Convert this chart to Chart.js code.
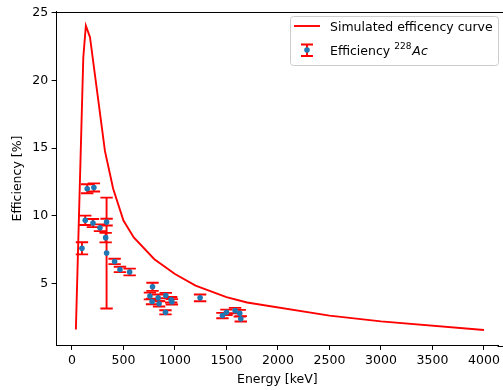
<!DOCTYPE html>
<html>
<head>
<meta charset="utf-8">
<script src="https://cdn.jsdelivr.net/npm/chart.js@4.4.1/dist/chart.umd.min.js"></script>
<style>
  body { margin: 0; background: #fff; }
  #chart { display: block; }
</style>
</head>
<body>
<canvas id="chart" width="503" height="390"></canvas>
<script>
// simulated efficiency curve
const curveEnergy = [38, 110, 135, 175, 320, 400, 500, 600, 800, 1000, 1200, 1500, 1700, 2500, 3000, 4000];
const curveEff = [1.6, 21.7, 24.05, 23.2, 14.8, 12.0, 9.65, 8.4, 6.8, 5.7, 4.85, 4.0, 3.6, 2.63, 2.2, 1.57];

// measured 228Ac efficiencies
const pointEnergy = [97, 129, 148, 204, 213, 272, 336, 327, 336, 414, 466, 560, 782, 757, 778, 837, 846, 911, 963, 970, 908, 1244, 1461, 1500, 1584, 1629, 1639];
const pointEff = [7.6, 9.67, 12.0, 9.47, 12.1, 9.12, 9.54, 8.39, 7.25, 6.63, 6.04, 5.85, 4.76, 4.08, 3.67, 3.94, 3.5, 4.11, 3.8, 3.65, 2.87, 3.94, 2.63, 2.87, 3.0, 2.8, 2.39];
const pointErr = [0.45, 0.35, 0.33, 0.3, 0.3, 0.25, 0.25, 0.35, 4.1, 0.2, 0.2, 0.25, 0.3, 0.25, 0.2, 0.25, 0.2, 0.2, 0.2, 0.2, 0.15, 0.25, 0.2, 0.2, 0.2, 0.25, 0.2];

const xTicks = [0, 500, 1000, 1500, 2000, 2500, 3000, 3500, 4000];
const yTicks = [5, 10, 15, 20, 25];

Chart.defaults.font.family = '"DejaVu Sans", sans-serif';
Chart.defaults.font.size = 12.5;
Chart.defaults.color = '#000';

const errorBars = {
    id: 'errorBars',
    beforeDatasetDraw(chart, args) {
        if (args.index !== 1) return;
        const ctx = chart.ctx;
        const xs = chart.scales.x, ys = chart.scales.y;
        ctx.save();
        ctx.strokeStyle = 'red';
        ctx.lineWidth = 1.9;
        pointEnergy.forEach((e, i) => {
            const px = xs.getPixelForValue(e);
            const top = ys.getPixelForValue(pointEff[i] + pointErr[i]);
            const bot = ys.getPixelForValue(pointEff[i] - pointErr[i]);
            ctx.beginPath();
            ctx.moveTo(px, top); ctx.lineTo(px, bot);
            ctx.moveTo(px - 6.2, top); ctx.lineTo(px + 6.2, top);
            ctx.moveTo(px - 6.2, bot); ctx.lineTo(px + 6.2, bot);
            ctx.stroke();
        });
        ctx.restore();
    }
};

const frameAndLegend = {
    id: 'frameAndLegend',
    afterDraw(chart) {
        const ctx = chart.ctx;
        const a = chart.chartArea;
        ctx.save();
        // top spine, and bottom spine carried to the edge
        ctx.strokeStyle = '#000';
        ctx.lineWidth = 1;
        ctx.beginPath();
        ctx.moveTo(a.left, Math.round(a.top) + 0.5);
        ctx.lineTo(503, Math.round(a.top) + 0.5);
        ctx.moveTo(a.right - 1, Math.round(a.bottom) + 0.5);
        ctx.lineTo(503, Math.round(a.bottom) + 0.5);
        ctx.stroke();

        // legend box
        ctx.beginPath();
        ctx.roundRect(290.5, 16.5, 208, 49, 3);
        ctx.fillStyle = 'rgba(255,255,255,0.8)';
        ctx.fill();
        ctx.strokeStyle = '#cccccc';
        ctx.stroke();

        // line entry
        ctx.strokeStyle = 'red';
        ctx.lineWidth = 1.9;
        ctx.beginPath();
        ctx.moveTo(294, 26); ctx.lineTo(320, 26);
        ctx.stroke();
        ctx.fillStyle = '#000';
        ctx.font = '12.5px "DejaVu Sans"';
        ctx.textBaseline = 'alphabetic';
        ctx.fillText('Simulated efficency curve', 330, 30.5);

        // errorbar entry
        ctx.beginPath();
        ctx.moveTo(307, 44.5); ctx.lineTo(307, 56);
        ctx.moveTo(301, 44.5); ctx.lineTo(313, 44.5);
        ctx.moveTo(301, 56); ctx.lineTo(313, 56);
        ctx.stroke();
        ctx.fillStyle = '#1f77b4';
        ctx.beginPath();
        ctx.arc(307, 50, 2.8, 0, Math.PI * 2);
        ctx.fill();

        ctx.fillStyle = '#000';
        let tx = 330;
        const main = 'Efficiency ';
        ctx.fillText(main, tx, 55);
        tx += ctx.measureText(main).width;
        ctx.font = '9px "DejaVu Sans"';
        ctx.fillText('228', tx, 48.5);
        tx += ctx.measureText('228').width + 1;
        ctx.font = 'italic 12.5px "DejaVu Sans"';
        ctx.fillText('Ac', tx, 55);
        ctx.restore();
    }
};

new Chart(document.getElementById('chart'), {
    type: 'scatter',
    data: {
        datasets: [{
            label: 'Simulated efficency curve',
            data: curveEnergy.map((e, i) => ({ x: e, y: curveEff[i] })),
            showLine: true,
            borderColor: 'red',
            borderWidth: 1.9,
            pointRadius: 0,
            tension: 0
        },
        {
            label: 'Efficiency 228Ac',
            data: pointEnergy.map((e, i) => ({ x: e, y: pointEff[i] })),
            pointRadius: 2.8,
            pointBackgroundColor: '#1f77b4',
            pointBorderWidth: 0
        }]
    },
    options: {
        responsive: false,
        animation: false,
        devicePixelRatio: 1,
        layout: { padding: { top: 11.5, right: 0, left: 0, bottom: 0 } },
        plugins: {
            legend: { display: false },
            tooltip: { enabled: false }
        },
        scales: {
            x: {
                type: 'linear',
                min: -155,
                max: 4142,
                afterBuildTicks: (s) => { s.ticks = xTicks.map(v => ({ value: v })); },
                afterFit: (s) => { s.height = 44.5; },
                ticks: { padding: 3, maxRotation: 0, callback: (v) => String(v) },
                grid: { drawOnChartArea: false, color: '#000', tickLength: 4.4, lineWidth: 1 },
                border: { color: '#000', width: 1 },
                title: { display: true, text: 'Energy [keV]', padding: { top: 0, bottom: 2.5 } }
            },
            y: {
                min: 0.42,
                max: 25.1,
                afterBuildTicks: (s) => { s.ticks = yTicks.map(v => ({ value: v })); },
                afterFit: (s) => { s.width = 56; },
                ticks: { padding: 3.5, callback: (v) => String(v) },
                grid: { drawOnChartArea: false, color: '#000', tickLength: 4.4, lineWidth: 1 },
                border: { color: '#000', width: 1 },
                title: { display: true, text: 'Efficiency [%]', padding: { top: 10.5, bottom: 0 } }
            }
        }
    },
    plugins: [errorBars, frameAndLegend]
});
</script>
</body>
</html>
